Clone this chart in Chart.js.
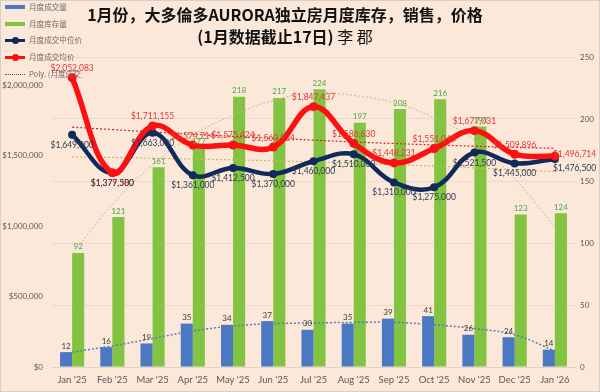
<!DOCTYPE html>
<html>
<head>
<meta charset="utf-8">
<script src="https://cdn.jsdelivr.net/npm/chart.js@4.4.1/dist/chart.umd.min.js"></script>
<style>
  html, body { margin: 0; padding: 0; background: #fce8d9; }
  #wrap { position: relative; width: 600px; height: 392px; background: #fce8d9; overflow: hidden; }
  #wrap canvas { position: absolute; left: 0; top: 0; }
  #frame { position: absolute; left: 0; top: 0; width: 600px; height: 392px; box-sizing: border-box; border: 1px solid #d6d0cc; pointer-events: none; }
  .title { position: absolute; left: 0; width: 570px; text-align: center; font-family: "Noto Sans CJK SC", sans-serif; font-size: 16px; color: #111; white-space: nowrap; line-height: 20px; }
  .title b { font-weight: 700; }
  #legend { position: absolute; left: 3px; top: 0; width: 79px; overflow: hidden; font-family: "Noto Sans CJK SC", sans-serif; font-size: 7.6px; color: #6b6b6b; }
  .li { position: relative; height: 16.7px; white-space: nowrap; }
  .li span.t { position: absolute; left: 26px; top: 1px; line-height: 12px; }
  .sym { position: absolute; left: 2px; top: 5px; width: 20px; }
  .rect { height: 4px; }
  .ln { height: 3px; top: 6px; }
  .dot { position: absolute; left: 7px; top: -2px; width: 7px; height: 7px; border-radius: 50%; }
  .dash { border-top: 1px dotted #555; top: 7px; height: 0; }
</style>
</head>
<body>
<div id="wrap">
  <canvas id="chart" width="600" height="392"></canvas>
  <div class="title" style="top:4px"><b>1月份，大多倫多AURORA独立房月度库存，销售，价格</b></div>
  <div class="title" style="top:26px"><b>(1月数据截止17日)</b> 李 郡</div>
  <div id="legend">
    <div class="li"><div class="sym rect" style="background:#4a78c2"></div><span class="t">月度成交量</span></div>
    <div class="li"><div class="sym rect" style="background:#82c341"></div><span class="t">月度库存量</span></div>
    <div class="li"><div class="sym ln" style="background:#112a5c"><div class="dot" style="background:#112a5c"></div></div><span class="t">月度成交中位价</span></div>
    <div class="li"><div class="sym ln" style="background:#ff1010"><div class="dot" style="background:#ff1010"></div></div><span class="t">月度成交均价</span></div>
    <div class="li"><div class="sym dash"></div><span class="t">Poly. (月度成交量)</span></div>
  </div>
  <div id="frame"></div>
</div>
<script>
  // categories
  const months = ["Jan '25", "Feb '25", "Mar '25", "Apr '25", "May '25", "Jun '25", "Jul '25",
                  "Aug '25", "Sep '25", "Oct '25", "Nov '25", "Dec '25", "Jan '26"];

  // counts (right axis)
  const salesCount = [12, 16, 19, 35, 34, 37, 30, 35, 39, 41, 26, 24, 14];
  const inventory = [92, 121, 161, 177, 218, 217, 224, 197, 208, 216, 194, 123, 124];

  // prices (left axis)
  const medianPrice = [1649000, 1377500, 1663000, 1361000, 1412500, 1370000, 1460000,
                       1510000, 1310000, 1275000, 1521500, 1445000, 1476500];
  const avgPrice = [2052083, 1379380, 1711155, 1574714, 1575424, 1560924, 1847437,
                    1586630, 1448231, 1551046, 1677031, 1509896, 1496714];

  // trend lines
  const salesTrend = [12, 17, 23, 29, 33, 35, 35.5, 36, 36, 34, 31, 26, 13];
  const inventoryTrend = [91, 131, 163, 187, 203, 215, 221, 219, 213, 201, 183, 152, 113];
  const avgTrend = [1702000, 1685000, 1668000, 1652000, 1637000, 1623000, 1610000,
                    1597000, 1586000, 1576000, 1567000, 1559000, 1552000];
  const medianTrend = [1490000, 1487000, 1482000, 1476000, 1470000, 1463000, 1455000,
                       1446000, 1436000, 1425000, 1413000, 1400000, 1386000];

  // axis ticks
  const priceTicks = [0, 500000, 1000000, 1500000, 2000000];
  const countTicks = [0, 50, 100, 150, 200, 250];

  const money = function (v) { return '$' + v.toLocaleString('en-US'); };

  // draws the value labels next to bars / points
  const valueLabels = {
    id: 'valueLabels',
    afterDatasetsDraw: function (chart) {
      const ctx = chart.ctx;
      chart.data.datasets.forEach(function (ds, i) {
        if (!ds.labelColor) return;
        const meta = chart.getDatasetMeta(i);
        ctx.save();
        ctx.font = ds.labelFont;
        ctx.fillStyle = ds.labelColor;
        meta.data.forEach(function (el, j) {
          const v = ds.data[j];
          const txt = ds.money ? money(v) : String(v);
          let pos = ds.labelPos;
          if (ds.money && j === ds.data.length - 1) pos = 'right';
          if (ds.money && ds.belowAt && ds.belowAt.indexOf(j) >= 0) pos = 'below';
          if (pos === 'bar') {
            ctx.textAlign = 'center'; ctx.textBaseline = 'bottom';
            ctx.fillText(txt, el.x, el.y - 2);
          } else if (pos === 'above') {
            ctx.textAlign = 'center'; ctx.textBaseline = 'bottom';
            ctx.fillText(txt, el.x, el.y - 5);
          } else if (pos === 'below') {
            ctx.textAlign = 'center'; ctx.textBaseline = 'top';
            ctx.fillText(txt, el.x, el.y + 6);
          } else if (pos === 'right') {
            ctx.textAlign = 'left'; ctx.textBaseline = 'middle';
            ctx.fillText(txt, el.x - 2, el.y + ds.rightDy);
          }
        });
        ctx.restore();
      });
    }
  };

  const fam = 'Lato, "Liberation Sans", sans-serif';
  const tickFont = { family: fam, size: 8 };
  const lblFont = '8.5px ' + fam;

  new Chart(document.getElementById('chart'), {
    type: 'bar',
    data: {
      labels: months,
      datasets: [
        {
          type: 'line', label: 'avg', data: avgPrice, yAxisID: 'yPrice', order: 1,
          borderColor: '#ff1010', backgroundColor: '#ff1010', borderWidth: 5.5,
          pointRadius: 4.5, pointBorderWidth: 0, tension: 0.4,
          money: true, labelPos: 'above', belowAt: [1], rightDy: -2,
          labelColor: '#e03a35', labelFont: lblFont
        },
        {
          type: 'line', label: 'median', data: medianPrice, yAxisID: 'yPrice', order: 2,
          borderColor: '#112a5c', backgroundColor: '#112a5c', borderWidth: 4.5,
          pointRadius: 4, pointBorderWidth: 0, tension: 0.4,
          money: true, labelPos: 'below', rightDy: 9,
          labelColor: '#2e3b55', labelFont: lblFont
        },
        {
          type: 'line', label: 'avgTrend', data: avgTrend, yAxisID: 'yPrice', order: 3,
          borderColor: '#d42020', borderWidth: 1.2, borderDash: [2, 2],
          pointRadius: 0, tension: 0.4
        },
        {
          type: 'line', label: 'medianTrend', data: medianTrend, yAxisID: 'yPrice', order: 3,
          borderColor: '#c2bf5a', borderWidth: 1.2, borderDash: [2, 2],
          pointRadius: 0, tension: 0.4
        },
        {
          type: 'line', label: 'salesTrend', data: salesTrend, yAxisID: 'yCount', order: 3,
          borderColor: '#5a7cb0', borderWidth: 1.5, borderDash: [2, 2],
          pointRadius: 0, tension: 0.4
        },
        {
          type: 'line', label: 'inventoryTrend', data: inventoryTrend, yAxisID: 'yCount', order: 3,
          borderColor: '#cdb98c', borderWidth: 1, borderDash: [2, 2],
          pointRadius: 0, tension: 0.4
        },
        {
          label: '月度成交量', data: salesCount, yAxisID: 'yCount', order: 5,
          backgroundColor: '#4a78c2', categoryPercentage: 0.6, barPercentage: 1.0,
          labelPos: 'bar', labelColor: '#404040', labelFont: '8px ' + fam
        },
        {
          label: '月度库存量', data: inventory, yAxisID: 'yCount', order: 5,
          backgroundColor: '#82c341', categoryPercentage: 0.6, barPercentage: 1.0,
          labelPos: 'bar', labelColor: '#47a84a', labelFont: '8px ' + fam
        }
      ]
    },
    options: {
      responsive: false,
      animation: false,
      devicePixelRatio: 1,
      layout: { padding: { top: 57, left: 0, right: 0, bottom: 0 } },
      plugins: {
        legend: { display: false },
        tooltip: { enabled: false },
        title: { display: false }
      },
      scales: {
        x: {
          grid: { display: false, drawTicks: false },
          border: { color: '#e6d2c4' },
          ticks: { color: '#595959', font: { family: fam, size: 9.5 }, padding: 7, maxRotation: 0 },
          afterFit: function (s) { s.height = 25; }
        },
        yPrice: {
          position: 'left', min: 0, max: 2200000,
          grid: { display: false, drawTicks: false },
          border: { display: false },
          ticks: { color: '#595959', font: tickFont, padding: 9, callback: function (v) { return money(v); } },
          afterBuildTicks: function (s) { s.ticks = priceTicks.map(function (v) { return { value: v }; }); },
          afterFit: function (s) { s.width = 52; }
        },
        yCount: {
          position: 'right', min: 0, max: 250,
          grid: { color: 'rgba(200,160,140,0.22)', drawTicks: false },
          border: { display: false },
          ticks: { color: '#595959', font: tickFont, padding: 5 },
          afterBuildTicks: function (s) { s.ticks = countTicks.map(function (v) { return { value: v }; }); },
          afterFit: function (s) { s.width = 25; }
        }
      }
    },
    plugins: [valueLabels]
  });
</script>
</body>
</html>
